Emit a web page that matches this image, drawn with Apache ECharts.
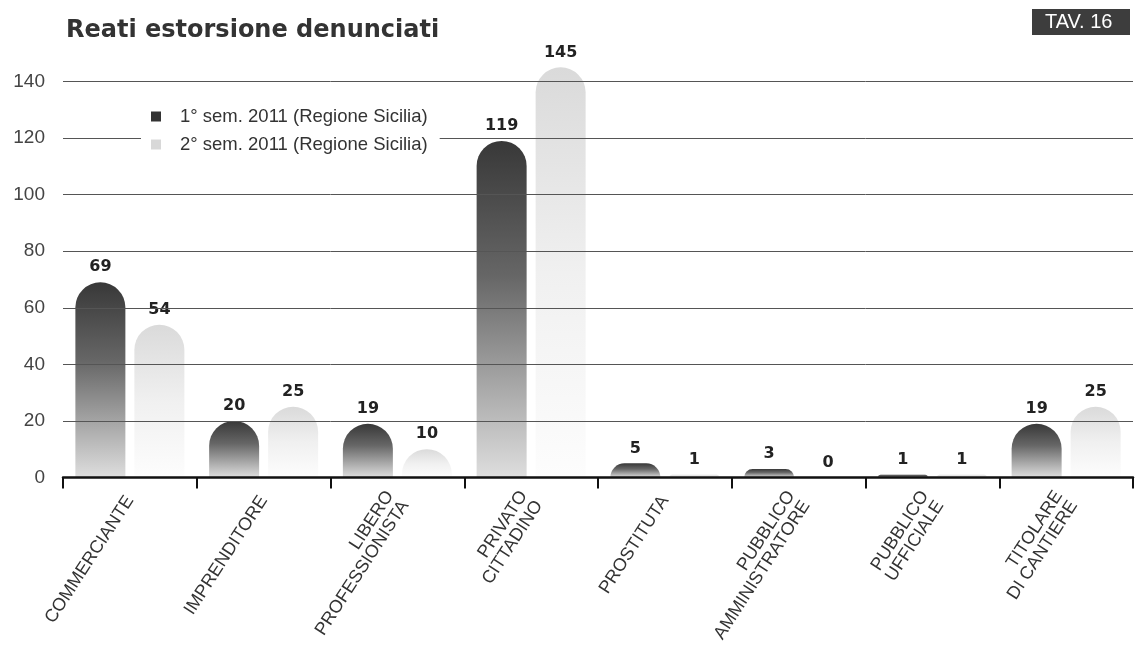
<!DOCTYPE html>
<html>
<head>
<meta charset="utf-8">
<script src="https://cdn.jsdelivr.net/npm/echarts@6/dist/echarts.min.js"></script>
<style>html,body{margin:0;padding:0;background:#fff;}#c{width:1137px;height:654px;}</style>
</head>
<body>
<div id="c"></div>
<script>
var categories = ['COMMERCIANTE', 'IMPRENDITORE', 'LIBERO\nPROFESSIONISTA', 'PRIVATO\nCITTADINO', 'PROSTITUTA', 'PUBBLICO\nAMMINISTRATORE', 'PUBBLICO\nUFFICIALE', 'TITOLARE\nDI CANTIERE'];
var seriesNames = ['1° sem. 2011 (Regione Sicilia)', '2° sem. 2011 (Regione Sicilia)'];
var sem1 = [69, 20, 19, 119, 5, 3, 1, 19];
var sem2 = [54, 25, 10, 145, 1, 0, 1, 25];
var yTicks = [0, 20, 40, 60, 80, 100, 120, 140];

var chart = echarts.init(document.getElementById('c'), null, {renderer: 'canvas'});

function grad(stops) {
  return {type: 'linear', x: 0, y: 0, x2: 0, y2: 1, colorStops: stops};
}
var darkGrad = grad([{offset: 0, color: '#383838'}, {offset: 0.4, color: '#666'}, {offset: 1, color: '#dedede'}]);
var lightGrad = grad([{offset: 0, color: '#dadada'}, {offset: 0.5, color: '#f0f0f0'}, {offset: 1, color: '#fdfdfd'}]);

var labelStyle = {
  show: true, position: 'top', distance: 7,
  fontFamily: 'DejaVu Sans', fontWeight: 'bold', fontSize: 16, color: '#222'
};

chart.setOption({
  backgroundColor: '#ffffff',
  animation: false,
  title: {
    text: 'Reati estorsione denunciati',
    left: 61, top: 14,
    textStyle: {fontFamily: 'DejaVu Sans', fontWeight: 'bold', fontSize: 24, color: '#333'}
  },
  graphic: [
    {type: 'rect', left: 1032, top: 9, shape: {width: 98, height: 26}, style: {fill: '#3d3d3d'}},
    {type: 'text', left: 1045, top: 12, style: {text: 'TAV. 16', fill: '#fff', fontFamily: 'Liberation Sans', fontSize: 20}}
  ],
  legend: {
    orient: 'vertical',
    left: 141, top: 104,
    itemWidth: 10, itemHeight: 10, itemGap: 9,
    padding: [3, 12, 3, 10],
    backgroundColor: '#fff',
    z: 20,
    icon: 'rect',
    textStyle: {fontFamily: 'Liberation Sans', fontSize: 18.5, color: '#333', padding: [0, 0, 0, 14]},
    data: [
      {name: seriesNames[0], itemStyle: {color: '#333'}},
      {name: seriesNames[1], itemStyle: {color: '#d8d8d8'}}
    ]
  },
  grid: {left: 63, right: 4, top: 81.5, bottom: 176.5, containLabel: false},
  xAxis: {
    type: 'category',
    data: categories,
    z: 6,
    axisLine: {lineStyle: {color: '#111', width: 2.5}},
    axisTick: {show: true, length: 11, lineStyle: {color: '#111', width: 2}, alignWithLabel: false},
    axisLabel: {
      interval: 0, rotate: 57, margin: 20,
      fontFamily: 'Liberation Sans', fontSize: 18, color: '#333', lineHeight: 18
    }
  },
  yAxis: {
    type: 'value',
    min: 0, max: 140, interval: 20,
    z: 5,
    axisLine: {show: false},
    axisTick: {show: false},
    splitLine: {lineStyle: {color: '#555', width: 1}},
    axisLabel: {
      margin: 18, fontFamily: 'Liberation Sans', fontSize: 19, color: '#444',
      formatter: function (v) { return yTicks.indexOf(v) >= 0 ? String(v) : ''; }
    }
  },
  series: [
    {
      name: seriesNames[0], type: 'bar', data: sem1, barWidth: 50, barGap: '18%', clip: false,
      itemStyle: {color: darkGrad, borderRadius: [25, 25, 0, 0]},
      label: labelStyle
    },
    {
      name: seriesNames[1], type: 'bar', data: sem2, barWidth: 50, clip: false,
      itemStyle: {color: lightGrad, borderRadius: [25, 25, 0, 0]},
      label: labelStyle
    }
  ]
});
</script>
</body>
</html>
